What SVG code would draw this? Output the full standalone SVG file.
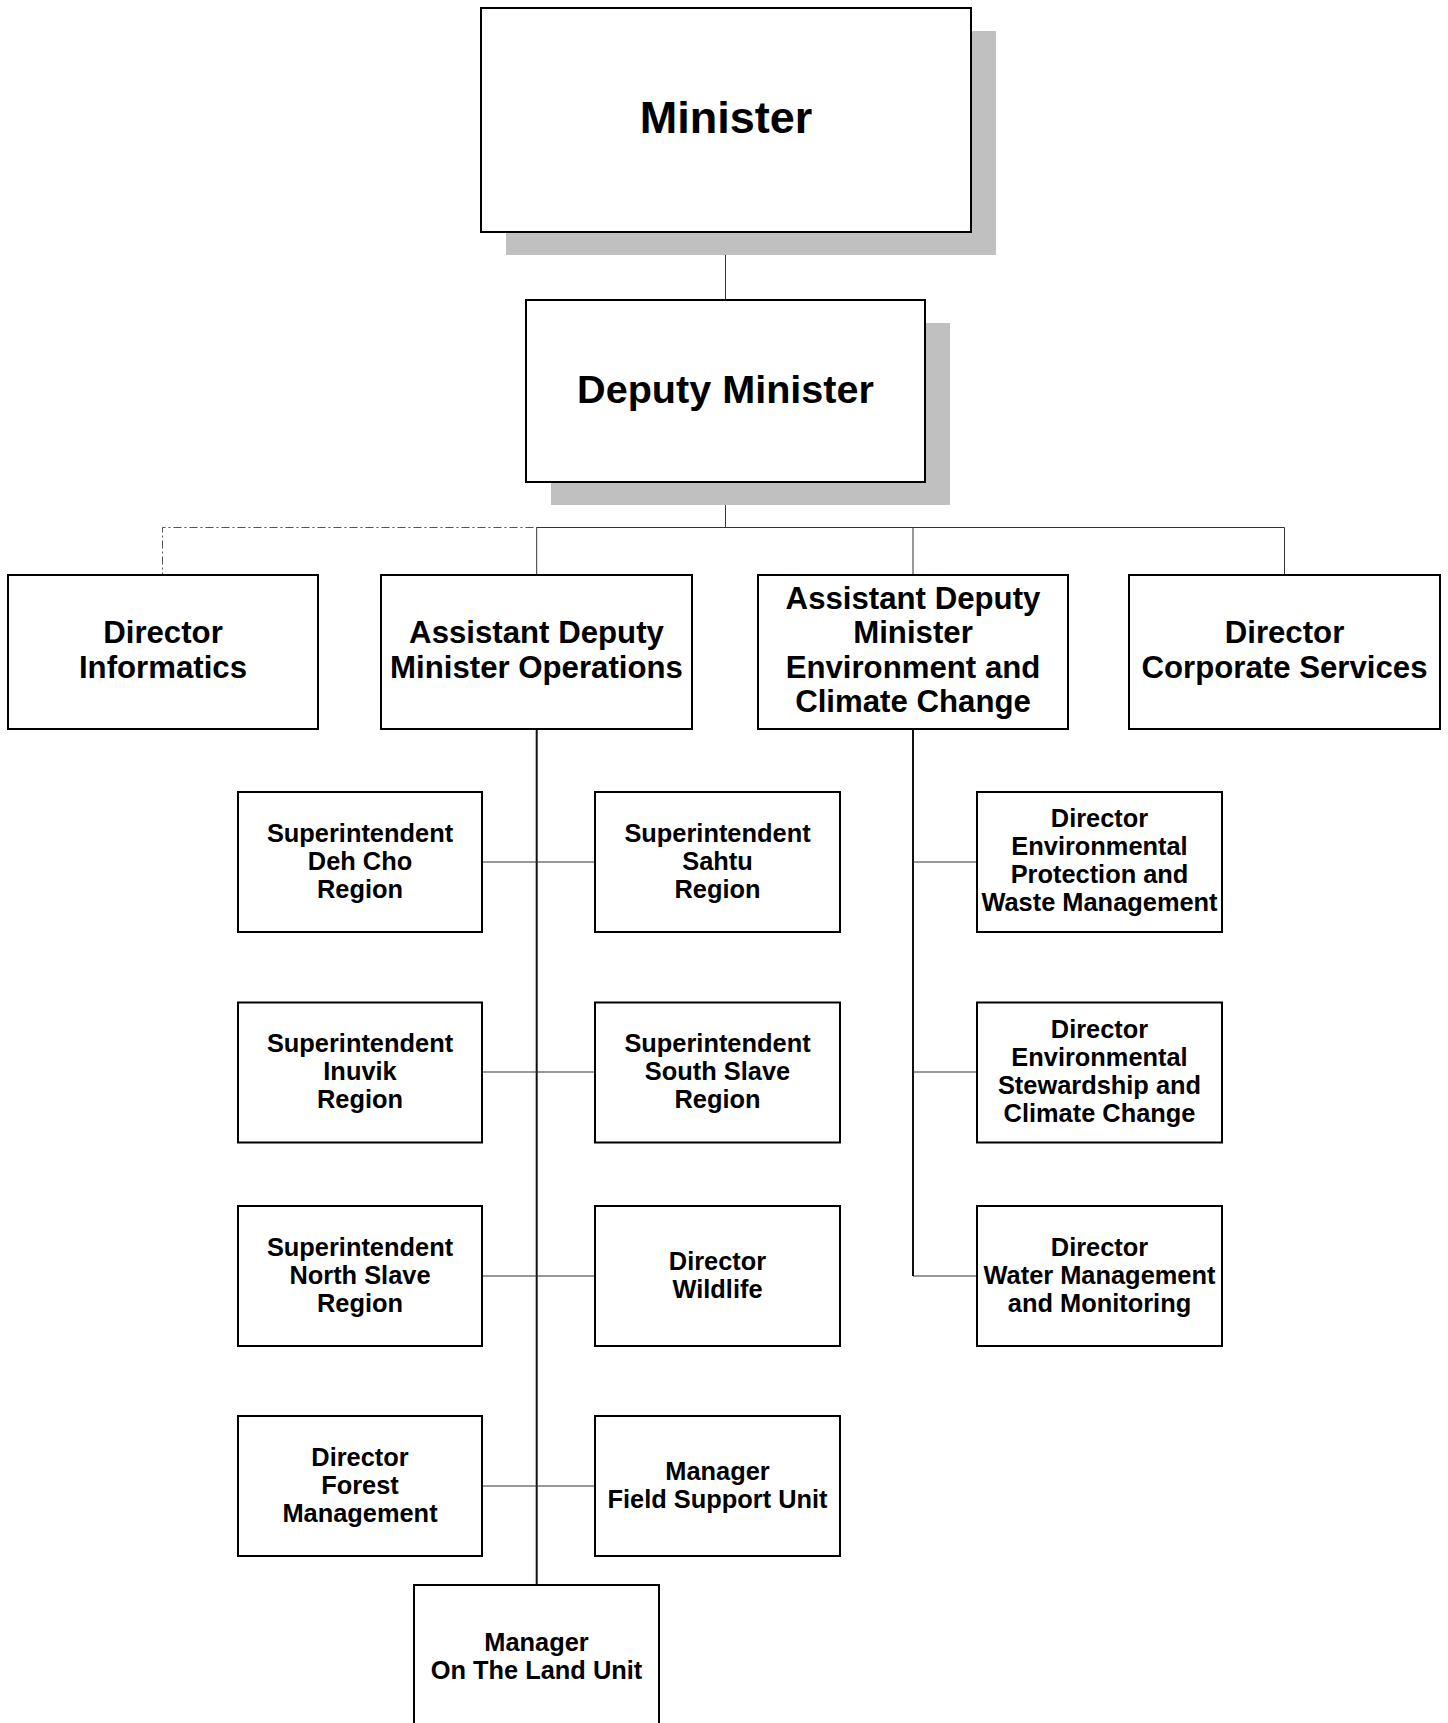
<svg xmlns="http://www.w3.org/2000/svg" width="1448" height="1723" viewBox="0 0 1448 1723">
<style>
.box{fill:#fff;stroke:#000;stroke-width:2}
.shadow{fill:#c0c0c0;stroke:none}
.t{font-family:"Liberation Sans",Arial,sans-serif;font-weight:bold;fill:#000;text-anchor:middle}
.t44{font-size:45px}
.t39{font-size:39.6px}
.t30{font-size:31.2px}
.t25{font-size:25.4px}
.c{stroke:#333;stroke-width:1;fill:none}
.trunk{stroke:#111;stroke-width:2;fill:none}
.dash{stroke:#555;stroke-width:1;fill:none;stroke-dasharray:8 3 2 3}
</style>
<rect width="1448" height="1723" fill="#fff"/>
<g id="connectors">
<line class="c" x1="725.5" y1="232" x2="725.5" y2="300"/>
<line class="c" x1="725.5" y1="482" x2="725.5" y2="527.5"/>
<path class="dash" d="M725.5 527.5 H162.5 V575"/>
<line class="c" x1="536.7" y1="527.5" x2="1284.5" y2="527.5"/>
<line class="c" x1="536.7" y1="527.5" x2="536.7" y2="575"/>
<line class="c" x1="913" y1="527.5" x2="913" y2="575"/>
<line class="c" x1="1284.5" y1="527.5" x2="1284.5" y2="575"/>
<line class="trunk" x1="536.7" y1="729" x2="536.7" y2="1585"/>
<line class="trunk" x1="913" y1="729" x2="913" y2="1276"/>
<line class="c" x1="482" y1="862" x2="595" y2="862"/>
<line class="c" x1="482" y1="1072" x2="595" y2="1072"/>
<line class="c" x1="482" y1="1276" x2="595" y2="1276"/>
<line class="c" x1="482" y1="1486" x2="595" y2="1486"/>
<line class="c" x1="913" y1="862" x2="977" y2="862"/>
<line class="c" x1="913" y1="1072" x2="977" y2="1072"/>
<line class="c" x1="913" y1="1276" x2="977" y2="1276"/>
</g>
<g id="minister">
<rect class="shadow" x="506" y="31" width="490" height="224"/>
<rect class="box" x="481" y="8" width="490" height="224"/>
<text class="t t44" x="726" y="133">Minister</text>
</g>
<g id="deputy-minister">
<rect class="shadow" x="551" y="323" width="399" height="182"/>
<rect class="box" x="526" y="300" width="399" height="182"/>
<text class="t t39" x="725.5" y="402.5">Deputy Minister</text>
</g>
<g id="director-informatics">
<rect class="box" x="8" y="575" width="310" height="154"/>
<text class="t t30" x="163" y="643"><tspan x="163">Director</tspan><tspan x="163" dy="34.5">Informatics</tspan></text>
</g>
<g id="adm-operations">
<rect class="box" x="381" y="575" width="311" height="154"/>
<text class="t t30" x="536.5" y="643"><tspan x="536.5">Assistant Deputy</tspan><tspan x="536.5" dy="34.5">Minister Operations</tspan></text>
</g>
<g id="adm-environment">
<rect class="box" x="758" y="575" width="310" height="154"/>
<text class="t t30" x="913" y="608.5"><tspan x="913">Assistant Deputy</tspan><tspan x="913" dy="34.5">Minister</tspan><tspan x="913" dy="34.5">Environment and</tspan><tspan x="913" dy="34.5">Climate Change</tspan></text>
</g>
<g id="director-corporate">
<rect class="box" x="1129" y="575" width="311" height="154"/>
<text class="t t30" x="1284.5" y="643"><tspan x="1284.5">Director</tspan><tspan x="1284.5" dy="34.5">Corporate Services</tspan></text>
</g>
<g id="supt-dehcho">
<rect class="box" x="238" y="792" width="244" height="140"/>
<text class="t t25" x="360" y="842"><tspan x="360">Superintendent</tspan><tspan x="360" dy="28">Deh Cho</tspan><tspan x="360" dy="28">Region</tspan></text>
</g>
<g id="supt-sahtu">
<rect class="box" x="595" y="792" width="245" height="140"/>
<text class="t t25" x="717.5" y="842"><tspan x="717.5">Superintendent</tspan><tspan x="717.5" dy="28">Sahtu</tspan><tspan x="717.5" dy="28">Region</tspan></text>
</g>
<g id="dir-env-protection">
<rect class="box" x="977" y="792" width="245" height="140"/>
<text class="t t25" x="1099.5" y="827"><tspan x="1099.5">Director</tspan><tspan x="1099.5" dy="28">Environmental</tspan><tspan x="1099.5" dy="28">Protection and</tspan><tspan x="1099.5" dy="28">Waste Management</tspan></text>
</g>
<g id="supt-inuvik">
<rect class="box" x="238" y="1002.5" width="244" height="140"/>
<text class="t t25" x="360" y="1052"><tspan x="360">Superintendent</tspan><tspan x="360" dy="28">Inuvik</tspan><tspan x="360" dy="28">Region</tspan></text>
</g>
<g id="supt-southslave">
<rect class="box" x="595" y="1002.5" width="245" height="140"/>
<text class="t t25" x="717.5" y="1052"><tspan x="717.5">Superintendent</tspan><tspan x="717.5" dy="28">South Slave</tspan><tspan x="717.5" dy="28">Region</tspan></text>
</g>
<g id="dir-env-stewardship">
<rect class="box" x="977" y="1002.5" width="245" height="140"/>
<text class="t t25" x="1099.5" y="1037.5"><tspan x="1099.5">Director</tspan><tspan x="1099.5" dy="28">Environmental</tspan><tspan x="1099.5" dy="28">Stewardship and</tspan><tspan x="1099.5" dy="28">Climate Change</tspan></text>
</g>
<g id="supt-northslave">
<rect class="box" x="238" y="1206" width="244" height="140"/>
<text class="t t25" x="360" y="1255.5"><tspan x="360">Superintendent</tspan><tspan x="360" dy="28">North Slave</tspan><tspan x="360" dy="28">Region</tspan></text>
</g>
<g id="dir-wildlife">
<rect class="box" x="595" y="1206" width="245" height="140"/>
<text class="t t25" x="717.5" y="1269.5"><tspan x="717.5">Director</tspan><tspan x="717.5" dy="28">Wildlife</tspan></text>
</g>
<g id="dir-water">
<rect class="box" x="977" y="1206" width="245" height="140"/>
<text class="t t25" x="1099.5" y="1255.5"><tspan x="1099.5">Director</tspan><tspan x="1099.5" dy="28">Water Management</tspan><tspan x="1099.5" dy="28">and Monitoring</tspan></text>
</g>
<g id="dir-forest">
<rect class="box" x="238" y="1416" width="244" height="140"/>
<text class="t t25" x="360" y="1466"><tspan x="360">Director</tspan><tspan x="360" dy="28">Forest</tspan><tspan x="360" dy="28">Management</tspan></text>
</g>
<g id="mgr-field-support">
<rect class="box" x="595" y="1416" width="245" height="140"/>
<text class="t t25" x="717.5" y="1480"><tspan x="717.5">Manager</tspan><tspan x="717.5" dy="28">Field Support Unit</tspan></text>
</g>
<g id="mgr-on-the-land">
<rect class="box" x="414" y="1585" width="245" height="140"/>
<text class="t t25" x="536.5" y="1650.5"><tspan x="536.5">Manager</tspan><tspan x="536.5" dy="28">On The Land Unit</tspan></text>
</g>
</svg>
